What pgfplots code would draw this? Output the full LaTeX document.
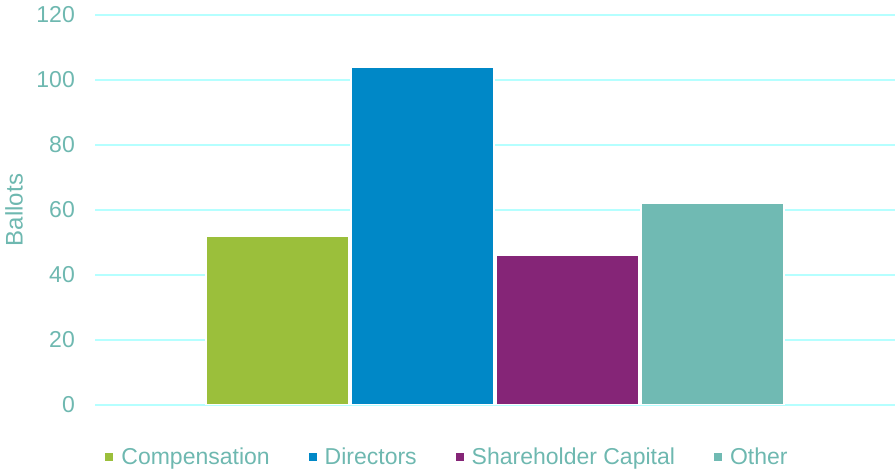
\documentclass[border=0pt]{standalone}
\usepackage{fontspec}
\setmainfont{Liberation Sans}
\usepackage{pgfplots}
\pgfplotsset{compat=1.18}
\definecolor{cgreen}{HTML}{9BBF3B}
\definecolor{cblue}{HTML}{0088C7}
\definecolor{cpurple}{HTML}{852577}
\definecolor{cteal}{HTML}{70BAB3}
\definecolor{ctext}{HTML}{6EB8B0}
\definecolor{cgrid}{HTML}{B5FFFF}
\begin{document}
\begin{tikzpicture}[font=\fontsize{23bp}{27bp}\selectfont]
\path[use as bounding box] (0,0) rectangle (895bp,470bp);
\begin{axis}[
  at={(95bp,65bp)}, anchor=south west,
  scale only axis, width=800bp, height=390bp,
  xmin=-1, xmax=1, ymin=0, ymax=120,
  ytick={0,20,...,120}, xtick=\empty,
  ymajorgrids, grid style={cgrid, line width=2bp},
  axis line style={draw=none}, major tick length=0pt,
  /pgf/number format/assume math mode=true,
  y tick label style={color=ctext, font=\fontsize{23bp}{27bp}\selectfont, inner sep=0pt, xshift=-20bp},
  ylabel={Ballots},
  ylabel style={color=ctext, font=\fontsize{24bp}{28bp}\selectfont, at={(axis description cs:-0.10125,0.5)}, anchor=center},
  ybar=2bp, bar width=143bp,
  legend columns=4,
  legend style={at={(axis description cs:0.4406,-0.1333)}, anchor=center, draw=none, fill=none,
    font=\fontsize{23bp}{27bp}\selectfont, text=ctext,
    /tikz/every odd column/.append style={column sep=6bp},
    /tikz/every even column/.append style={column sep=37bp}},
  legend image code/.code={\path[#1,draw=none] (0bp,-4bp) rectangle (8bp,4bp);},
]
\addplot[fill=cgreen, draw=white, line width=1.5bp] coordinates {(0,52)};
\addplot[fill=cblue, draw=white, line width=1.5bp] coordinates {(0,104)};
\addplot[fill=cpurple, draw=white, line width=1.5bp] coordinates {(0,46)};
\addplot[fill=cteal, draw=white, line width=1.5bp] coordinates {(0,62)};
\legend{Compensation, Directors, Shareholder Capital, Other}
\end{axis}
\end{tikzpicture}
\end{document}
